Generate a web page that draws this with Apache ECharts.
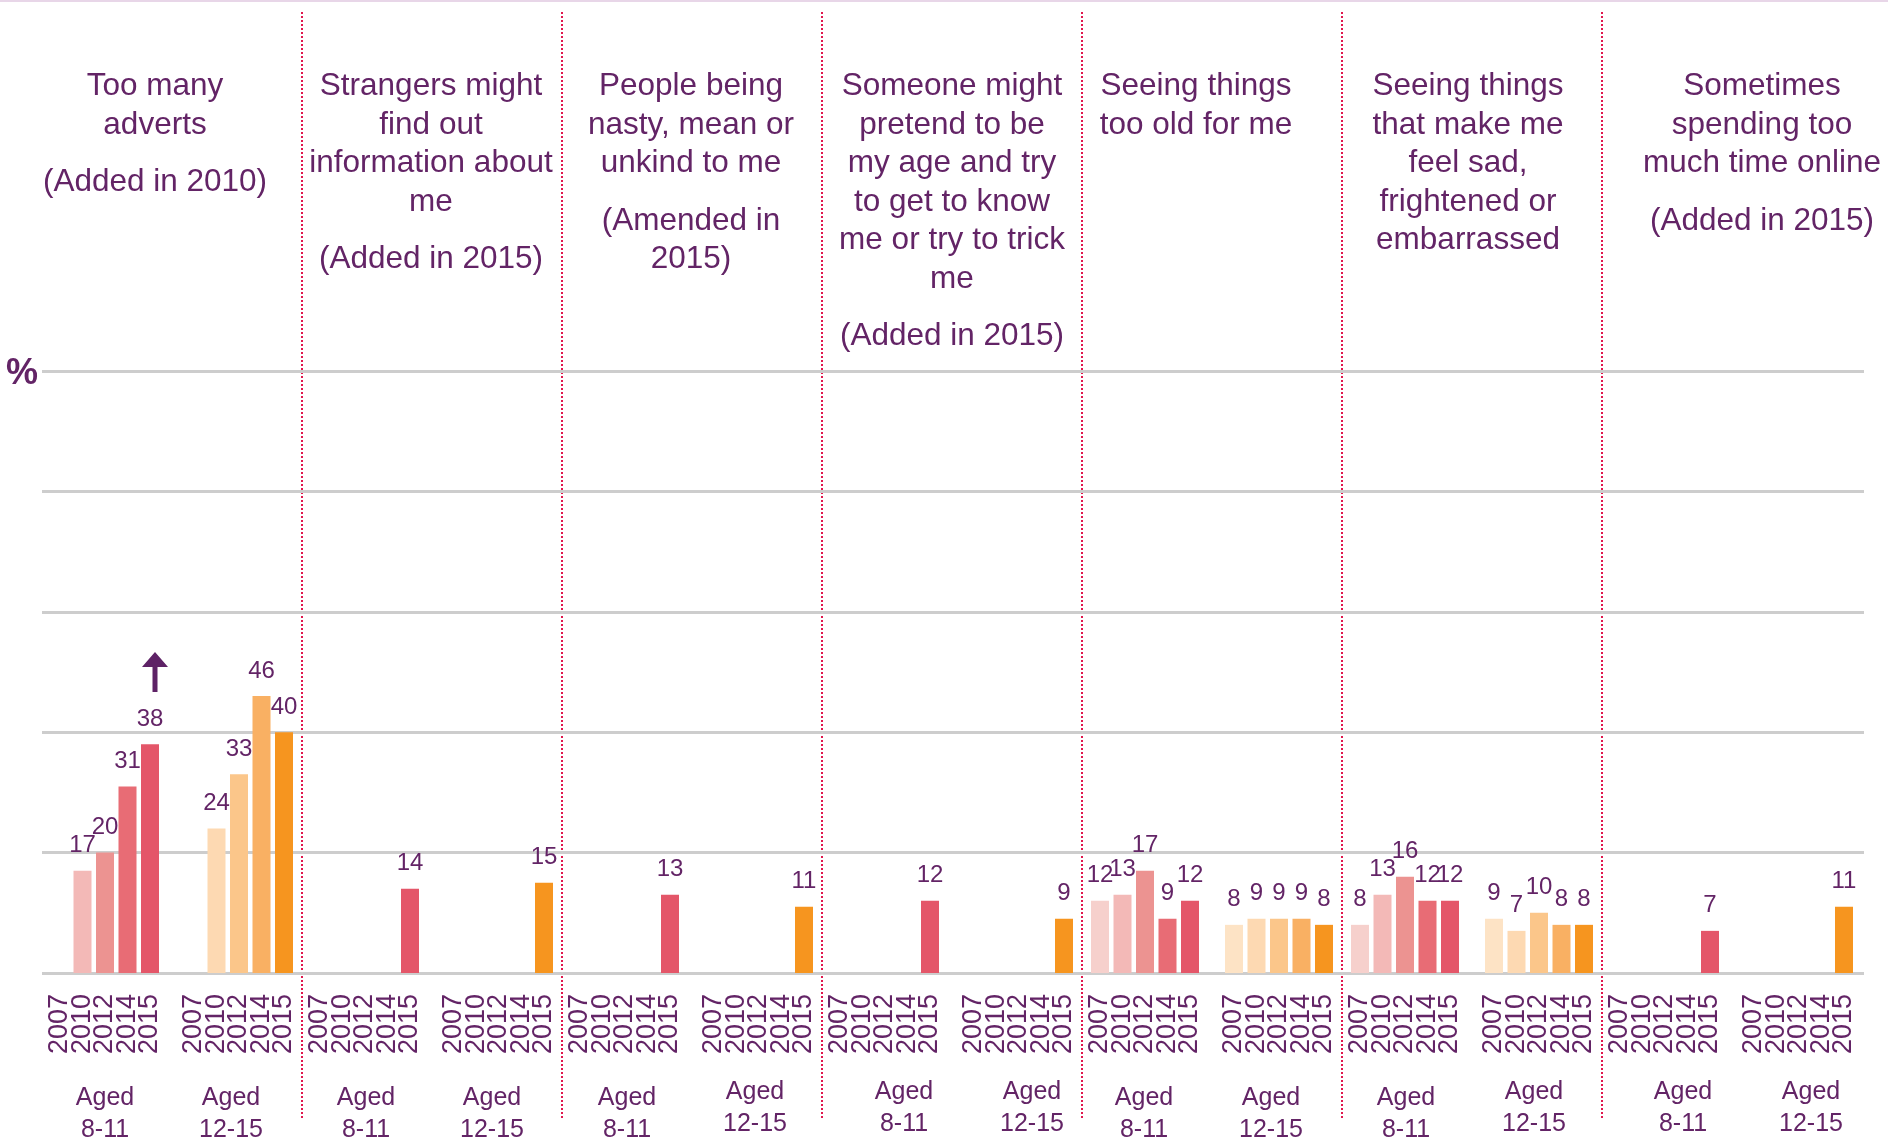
<!DOCTYPE html>
<html>
<head>
<meta charset="utf-8">
<script src="https://cdn.jsdelivr.net/npm/echarts@6/dist/echarts.min.js"></script>
<style>
  html, body { margin: 0; padding: 0; background: #fff; }
  #chart { width: 1888px; height: 1141px; }
</style>
</head>
<body>
<div id="chart"></div>
<script>
const years = ['2007', '2010', '2012', '2014', '2015']
const ageGroups = ['Aged\n8-11', 'Aged\n12-15']
const topics = [
  'Too many\nadverts',
  'Strangers might\nfind out\ninformation about\nme',
  'People being\nnasty, mean or\nunkind to me',
  'Someone might\npretend to be\nmy age and try\nto get to know\nme or try to trick\nme',
  'Seeing things\ntoo old for me',
  'Seeing things\nthat make me\nfeel sad,\nfrightened or\nembarrassed',
  'Sometimes\nspending too\nmuch time online'
]
const notes = ['(Added in 2010)', '(Added in 2015)', '(Amended in\n2015)', '(Added in 2015)', '', '', '(Added in 2015)']
// % per topic, years 2007..2015 (null = not asked)
const aged8to11 = [
  [null, 17, 20, 31, 38],
  [null, null, null, null, 14],
  [null, null, null, null, 13],
  [null, null, null, null, 12],
  [12, 13, 17, 9, 12],
  [8, 13, 16, 12, 12],
  [null, null, null, null, 7]
]
const aged12to15 = [
  [null, 24, 33, 46, 40],
  [null, null, null, null, 15],
  [null, null, null, null, 11],
  [null, null, null, null, 9],
  [8, 9, 9, 9, 8],
  [9, 7, 10, 8, 8],
  [null, null, null, null, 11]
]
const risingArrows = [{ topic: 0, age: 0, year: '2015' }]

const purple = '#632466'
const pinks = ['#F6D0CC', '#F3B9B7', '#EC9391', '#E86C75', '#E45669']
const oranges = ['#FDE3C5', '#FDD9B2', '#FBC68A', '#F9B063', '#F6951F']
const font = '"Liberation Sans", Arial, sans-serif'

// layout
const PANEL_W = 260
const FIRST_SLOT = 60
const AGE_SHIFT = 134
const SLOT = 22.5
const TOP = 371
const BOTTOM = 168
const titleX = [155, 431, 691, 952, 1196, 1468, 1762]
// hand nudges of the "Aged" captions, [dx, dy] per panel and age group
const nameNudge = [
  [[0, 0], [-8, 0]],
  [[1, 0], [-7, 0]],
  [[2, 0], [-4, -6]],
  [[19, -6], [13, -6]],
  [[-1, 0], [-8, 0]],
  [[1, 0], [-5, -6]],
  [[18, -6], [12, -6]]
]

const chart = echarts.init(document.getElementById('chart'))

const grid = [{ left: 42, right: 24, top: TOP, bottom: BOTTOM, outerBoundsMode: 'none' }]
const xAxis = [{ gridIndex: 0, type: 'value', show: false }]
const yAxis = [{
  gridIndex: 0,
  min: 0,
  max: 100,
  interval: 20,
  axisLine: { show: false },
  axisTick: { show: false },
  splitLine: { lineStyle: { color: '#CDCDCD', width: 3 } },
  axisLabel: {
    formatter: v => (v === 100 ? '%' : ''),
    fontSize: 36,
    fontWeight: 'bold',
    fontFamily: font,
    color: purple,
    margin: 4,
    verticalAlign: 'top',
    lineHeight: 7
  }
}]
const series = []

topics.forEach((topic, p) => {
  [aged8to11[p], aged12to15[p]].forEach((values, g) => {
    const idx = grid.length
    const palette = g === 0 ? pinks : oranges
    const [dx, dy] = nameNudge[p][g]
    grid.push({
      left: FIRST_SLOT - SLOT / 2 + PANEL_W * p + AGE_SHIFT * g,
      width: SLOT * 5,
      top: TOP,
      bottom: BOTTOM,
      outerBoundsMode: 'none'
    })
    xAxis.push({
      gridIndex: idx,
      type: 'category',
      data: years,
      axisLine: { show: false },
      axisTick: { show: false },
      axisLabel: { rotate: 90, interval: 0, fontSize: 27, margin: 21, color: purple, fontFamily: font },
      name: ageGroups[g],
      nameLocation: 'middle',
      nameGap: 109 + dy,
      nameTextStyle: {
        fontSize: 25,
        lineHeight: 32,
        color: purple,
        fontFamily: font,
        padding: [0, Math.max(0, -2 * dx), 0, Math.max(0, 2 * dx)]
      }
    })
    yAxis.push({ gridIndex: idx, min: 0, max: 100, show: false })

    const arrows = risingArrows.filter(a => a.topic === p && a.age === g)
    series.push({
      type: 'bar',
      xAxisIndex: idx,
      yAxisIndex: idx,
      barWidth: 18,
      data: values.map((v, k) => (v == null ? '-' : { value: v, itemStyle: { color: palette[k] } })),
      label: { show: true, position: 'top', distance: 13, fontSize: 24, color: purple, fontFamily: font },
      markPoint: arrows.length ? {
        silent: true,
        symbol: 'path://M13,0 L26,15 L15.5,15 L15.5,40 L10.5,40 L10.5,15 L0,15 Z',
        symbolSize: [26, 40],
        symbolOffset: [5, 0],
        itemStyle: { color: '#5E2266' },
        label: { show: false },
        data: arrows.map(a => {
          const k = years.indexOf(a.year)
          return { coord: [k, values[k] + 12] }
        })
      } : undefined
    })
  })
})

const title = topics.map((topic, p) => {
  let text = topic.split('\n').map(l => '{m|' + l + '}').join('\n')
  if (notes[p]) {
    text += '\n{g| }\n' + notes[p].split('\n').map(l => '{m|' + l + '}').join('\n')
  }
  return {
    text,
    left: titleX[p],
    top: 67.5,
    padding: 0,
    textAlign: 'center',
    textStyle: {
      fontWeight: 'normal',
      rich: {
        m: { fontSize: 31.5, lineHeight: 38.5, fontWeight: 'normal', color: purple, fontFamily: font },
        g: { fontSize: 10, lineHeight: 19 }
      }
    }
  }
})

const graphic = [{
  type: 'rect',
  shape: { x: 0, y: 0, width: 1888, height: 2 },
  style: { fill: '#E8D6E8' },
  silent: true
}]
for (let p = 0; p < topics.length - 1; p++) {
  const x = FIRST_SLOT + PANEL_W * p + AGE_SHIFT + 4 * SLOT + (PANEL_W - AGE_SHIFT - 4 * SLOT) / 2
  graphic.push({
    type: 'line',
    shape: { x1: x, y1: 12, x2: x, y2: 1120 },
    style: { stroke: '#E0174D', lineWidth: 2, lineDash: [2, 2] },
    silent: true
  })
}

chart.setOption({
  animation: false,
  backgroundColor: '#fff',
  title,
  grid,
  xAxis,
  yAxis,
  series,
  graphic
})
</script>
</body>
</html>
